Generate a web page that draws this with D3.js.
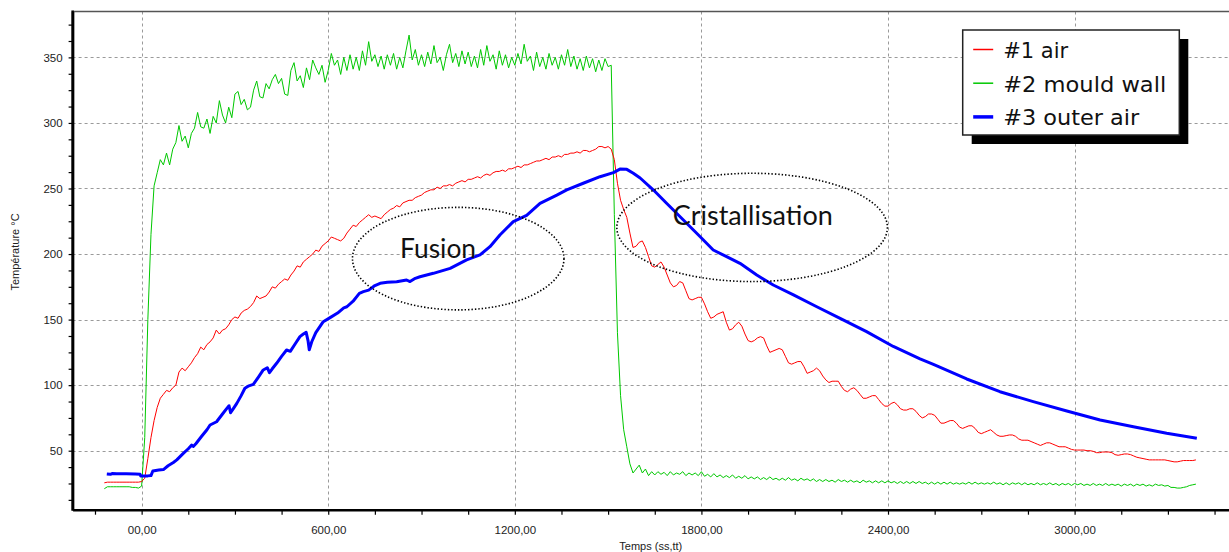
<!DOCTYPE html>
<html><head><meta charset="utf-8">
<script src="https://cdn.jsdelivr.net/npm/d3@7"></script>
<style>html,body{margin:0;padding:0;background:#fff;}svg{display:block;}</style>
</head><body>
<svg id="chart" width="1229" height="552"></svg>
<script>
// ---------- data ----------
const seriesNames = ["#1 air", "#2 mould wall", "#3 outer air"];
const xTickValues = [0, 600, 1200, 1800, 2400, 3000];
const xTickLabels = ["00,00", "600,00", "1200,00", "1800,00", "2400,00", "3000,00"];
const yTickValues = [50, 100, 150, 200, 250, 300, 350];
const yTickLabels = ["50", "100", "150", "200", "250", "300", "350"];
const xAxisTitle = "Temps (ss,tt)";
const yAxisTitle = "Température °C";

// sampled every 10 s starting at -120 s
const sampleStart = -120, sampleStep = 10;

const airValues = [
  25.5,26,26,26,26,26,26,26,26,26,
  26,26,26.5,29,44,60,73,83,90,93,
  96,95,98,100,110,113,111,114,117,121,
  124,129,127,131,133,136,142,139,142,143,
  146,150,152,151,155,157,158,160,163,168,
  166,167,168,171,175,174,177,179,181,180,
  184,187,191,190,194,196,198,200,203,202,
  206,208,210,213,212,211,210,212,216,219,
  222,221,224,226,228,230,228,229,228,227,
  230,232,234,235,237,236,239,240,241,241,
  243,244,245,247,248,249,249,251,250,252,
  252,253,252,254,255,256,255,257,257,258,
  259,258,260,261,260,262,263,263,264,263,
  265,265,266,267,266,268,268,269,270,271,
  271,272,273,272,274,274,275,274,276,276,
  277,277,278,277,279,279,278,279,280,282,
  282,281,282,280,272,254,241,234,228,216,
  205,206,209,210,205,198,191,190,192,194,
  190,184,178,175,176,179,178,172,166,165,
  166,167,167,162,156,151,152,154,155,156,
  148,142,143,146,148,145,139,134,133,134,
  136,137,136,130,125,126,127,128,127,122,
  117,116,117,118,118,114,109,110,111,113,
  111,107,104,102,103,103,103,99,96,95,
  97,98,96,93,90,90,91,92,92,89,
  86,84,84,86,87,85,82,81,81,82,
  82,80,77,75,76,78,78,77,74,71,
  71,72,73,73,71,68,67,68,69,69,
  67,64,63,64,65,66,64,62,61,61,
  61.5,62,62,61,59,58,58,58,57,56,
  55,54,55,56,56,55,54,53,53,53,
  52,51,50.5,50.5,50.5,50.5,50,50,49.5,48.5,
  48.5,49,49,49,48.5,47,46.5,47,47.5,47.5,
  47,46,45,44.5,44,43.5,43,43,43,43,
  43,43,42.5,42,41.5,41.5,42,42.5,42.5,42.5,
  42.5,43
];

const mouldWallValues = [
  21,22.5,22.5,22.5,22.5,22.5,22.5,22.5,22.5,22,
  22,21.5,23,60,150,215,252,262,272,268,
  277,268,280,285,298,286,290,281,292,296,
  308,297,296,303,292,305,300,317,306,300,
  312,304,322,324,314,318,310,312,325,332,
  320,319,330,326,333,337,330,334,322,321,
  340,346,332,336,327,342,333,348,342,337,
  344,331,340,353,344,348,337,350,340,352,
  341,350,340,355,344,362,347,352,343,351,
  341,352,344,353,341,350,342,355,367,348,
  356,344,352,343,354,345,359,346,350,340,
  352,360,346,353,343,355,345,354,343,351,
  342,356,344,359,347,352,341,355,344,352,
  342,350,344,353,345,360,347,351,340,354,
  343,350,341,353,344,350,341,352,344,356,
  343,351,341,349,340,351,342,349,339,348,
  340,349,343,344,230,140,92,66,53,40,
  33,36,39,33,36,31,34,31.5,34,32,
  33.5,31,34,31.5,33,32,34,31,33,31.5,
  33,31,34,30.5,32,30,32.5,30,31.5,29.5,
  31,29.5,31.5,29,30.5,29,31,28.5,30,28.5,
  30,28,29.5,28,30,28,29,27.5,29,27.5,
  29.5,27.5,28.5,27,29,27.5,28.5,27,28.5,26.5,
  28,26.5,28,26.5,27.5,26,28,26.5,27.5,26,
  27.5,26,27,25.5,27.5,26,27,25.5,27,25.5,
  27,25.5,27,25.5,26.5,25,26.5,25,26.5,25,
  26.5,25,26.5,25,26,24.5,26,24.5,26,24.5,
  26,24.5,26,24.5,25.5,24.5,25.5,24.5,26,24.5,
  26,24.5,25.5,24.5,25.5,24.5,26,24.5,25.5,24,
  25.5,24,25.5,24.5,25.5,24,25.5,24,25,24,
  25.5,24,25,24,25.5,24,25,23.5,25,24,
  25,23.5,25,24,25,23.5,24.5,23.5,25,23.5,
  24.5,23.5,25,23.5,24.5,23.5,24.5,23,24.5,23.5,
  24.5,23,24.5,23.5,24.5,23,24,23,24.5,23.5,
  24,23,23.5,22,22,21.5,21.5,22,22.5,23.5,
  24,24.5
];

const outerAirTimes = [
  -112,-100,-95,-80,-50,-20,-5,-3,20,30,36,55,70,85,102,113,134,150,161,166,
  175,193,210,220,241,260,274,281,286,296,306,320,332,345,359,375,391,404,411,420,
  434,450,466,478,495,509,520,529,535,539,547,560,584,606,630,650,660,680,700,713,
  730,750,767,790,820,852,863,880,895,938,992,1045,1088,1120,1152,1195,1238,1281,1335,1367,
  1420,1474,1517,1538,1560,1581,1603,1645,1688,1742,1796,1838,1881,1924,1978,2031,2096,2171,2246,2331,
  2417,2503,2546,2653,2760,2867,2975,3082,3189,3296,3393
];
const outerAirValues = [
  32.3,32.0,32.6,32.4,32.5,32.3,32.0,30.8,30.8,31,34.5,35.2,35.6,38.5,41,43,48,51.5,54.3,53.2,
  55.5,61,66,69.6,72.1,78,82.3,84.3,79,82.5,86.1,92,97.6,99.5,100.6,106,111.6,113.3,109.5,112.5,
  116.7,122,126.8,125.8,132,137,139,140.3,134,127,133.1,140,148.4,151.5,155,159,159.8,164,170,171.3,
  172.5,176,177.7,178.5,178.9,180.2,179,181.5,182.7,185.3,189.1,195.5,199.3,205.6,214.5,224.7,229.5,238.7,245,248.9,
  254,259,262.1,264.8,264.6,261.6,258,249,238.7,226,213.2,203.1,198,192.9,184,176.4,168.8,159.8,151,140.8,
  129.5,120,115.8,104.7,95,87.4,80.3,73.4,68.3,63.3,59.5
];

// annotations (data coordinates: seconds, °C)
const annotationLabels = ["Fusion", "Cristallisation"];
const annotationCenterT = [1018, 1963];
const annotationCenterV = [196.5, 220.3];
const annotationRadiusT = [340, 435];
const annotationRadiusV = [39.1, 41.3];
const annotationTextT = [831, 1708];
const annotationTextV = [196.8, 221.8];
const annotationTextWidth = [76, 160];

// ---------- styles ----------
const colors = ["#ff0000", "#00c800", "#0000ff"];
const widths = [1, 1, 3];

const svg = d3.select("#chart");
const plotLeft = 72.6, plotRight = 1230.1, plotTop = 11.5, plotBottom = 509.7;

const x = d3.scaleLinear().domain([-222, 3500]).range([plotLeft, plotRight]);
const y = d3.scaleLinear().domain([5, 385]).range([plotBottom, plotTop]);

// gridlines
const grid = svg.append("g").attr("stroke", "#9a9a9a").attr("stroke-width", 1).attr("stroke-dasharray", "3,3");
grid.selectAll("line.h").data(yTickValues).join("line")
  .attr("x1", plotLeft).attr("x2", plotRight)
  .attr("y1", d => Math.round(y(d)) + 0.5).attr("y2", d => Math.round(y(d)) + 0.5);
grid.selectAll("line.v").data(xTickValues).join("line")
  .attr("y1", plotTop).attr("y2", plotBottom)
  .attr("x1", d => Math.round(x(d)) + 0.5).attr("x2", d => Math.round(x(d)) + 0.5);

// top frame line
svg.append("line").attr("x1", plotLeft).attr("x2", plotRight)
  .attr("y1", plotTop).attr("y2", plotTop).attr("stroke", "#555").attr("stroke-width", 1.5);

// series
const times = airValues.map((_, i) => sampleStart + i * sampleStep);
const seriesData = [
  airValues.map((v, i) => ({t: times[i], v})),
  mouldWallValues.map((v, i) => ({t: times[i], v})),
  outerAirValues.map((v, i) => ({t: outerAirTimes[i], v}))
];
const line = d3.line().x(d => x(d.t)).y(d => y(d.v));
[1, 0, 2].forEach(k => {
  svg.append("path").datum(seriesData[k])
    .attr("fill", "none").attr("stroke", colors[k]).attr("stroke-width", widths[k])
    .attr("stroke-linejoin", "round").attr("d", line);
});

// annotations
annotationLabels.forEach((lab, i) => {
  const cx = x(annotationCenterT[i]), cy = y(annotationCenterV[i]);
  const rx = x(annotationCenterT[i] + annotationRadiusT[i]) - cx;
  const ry = cy - y(annotationCenterV[i] + annotationRadiusV[i]);
  svg.append("ellipse").attr("cx", cx).attr("cy", cy).attr("rx", rx).attr("ry", ry)
    .attr("fill", "none").attr("stroke", "#000").attr("stroke-width", 1.6)
    .attr("stroke-dasharray", "1.4,2").attr("stroke-linecap", "butt");
  svg.append("text").attr("x", x(annotationTextT[i])).attr("y", y(annotationTextV[i]))
    .attr("font-family", "Lato, 'Open Sans', sans-serif").attr("font-size", 26)
    .attr("fill", "#111").attr("textLength", annotationTextWidth[i])
    .attr("lengthAdjust", "spacingAndGlyphs").text(lab);
});

// axes
const xMinor = d3.range(-150, 3451, 150);
const xAxis = d3.axisBottom(x).tickValues(xMinor).tickSize(5).tickSizeOuter(0).tickPadding(11)
  .tickFormat(d => { const i = xTickValues.indexOf(d); return i >= 0 ? xTickLabels[i] : ""; });
const gx = svg.append("g").attr("transform", `translate(0,${plotBottom})`).call(xAxis);
gx.select(".domain").attr("stroke", "#000").attr("stroke-width", 2.5);
gx.selectAll(".tick line").attr("stroke", "#000").attr("stroke-width", 1.2);
gx.selectAll("text").attr("font-family", "'Liberation Sans', Arial, sans-serif").attr("font-size", 11.5).attr("fill", "#222");

const yMinor = d3.range(12.5, 380, 12.5);
const yAxis = d3.axisLeft(y).tickValues(yMinor).tickSize(4).tickSizeOuter(0).tickPadding(6)
  .tickFormat(d => { const i = yTickValues.indexOf(d); return i >= 0 ? yTickLabels[i] : ""; });
const gy = svg.append("g").attr("transform", `translate(${plotLeft},0)`).call(yAxis);
gy.select(".domain").attr("stroke", "#000").attr("stroke-width", 2.5);
gy.selectAll(".tick line").attr("stroke", "#000").attr("stroke-width", 1.2);
gy.selectAll("text").attr("font-family", "'Liberation Sans', Arial, sans-serif").attr("font-size", 11.5).attr("fill", "#222");
// extend y axis line to top frame
svg.append("line").attr("x1", plotLeft).attr("x2", plotLeft).attr("y1", plotTop - 1).attr("y2", plotBottom + 1)
  .attr("stroke", "#000").attr("stroke-width", 2.5);

// axis titles
svg.append("text").attr("x", (plotLeft + 1229) / 2).attr("y", 550).attr("text-anchor", "middle")
  .attr("font-family", "'Liberation Sans', Arial, sans-serif").attr("font-size", 11).attr("fill", "#222")
  .text(xAxisTitle);
svg.append("text").attr("transform", "translate(19,252) rotate(-90)").attr("text-anchor", "middle")
  .attr("font-family", "'Liberation Sans', Arial, sans-serif").attr("font-size", 11).attr("fill", "#222")
  .text(yAxisTitle);

// legend
const lg = svg.append("g").attr("transform", "translate(962.7,30)");
lg.append("rect").attr("x", 9).attr("y", 9).attr("width", 216.6).attr("height", 105).attr("fill", "#000");
lg.append("rect").attr("x", 0).attr("y", 0).attr("width", 216.6).attr("height", 105)
  .attr("fill", "#fff").attr("stroke", "#222").attr("stroke-width", 1.5);
const legendTextWidth = [65, 163, 136];
seriesNames.forEach((name, i) => {
  const cy = 19.5 + i * 33.7;
  lg.append("line").attr("x1", 10.5).attr("x2", 30.5).attr("y1", cy).attr("y2", cy)
    .attr("stroke", colors[i]).attr("stroke-width", i === 2 ? 3.5 : 1.5);
  lg.append("text").attr("x", 40.5).attr("y", cy + 8.5)
    .attr("font-family", "'DejaVu Sans', sans-serif").attr("font-size", 22).attr("fill", "#111")
    .attr("textLength", legendTextWidth[i]).attr("lengthAdjust", "spacingAndGlyphs").text(name);
});
</script>
</body></html>
